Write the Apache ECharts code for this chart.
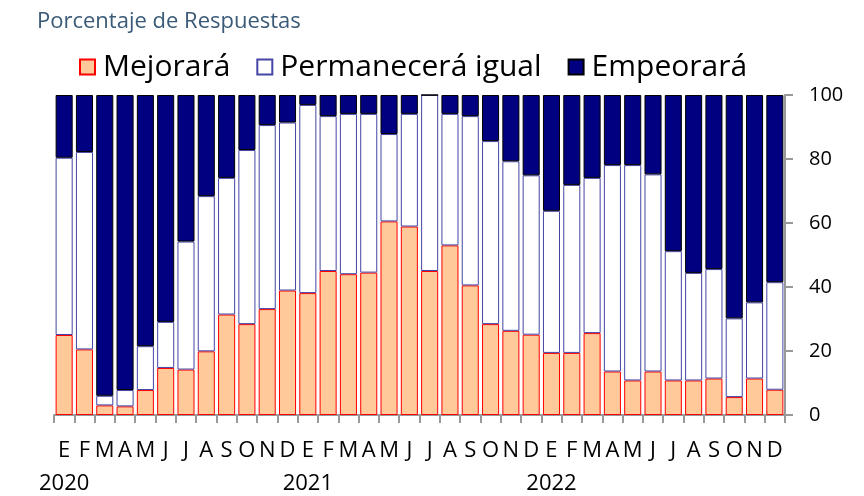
<!DOCTYPE html>
<html>
<head>
<meta charset="utf-8">
<script src="https://cdn.jsdelivr.net/npm/echarts@6/dist/echarts.min.js"></script>
<style>
  html, body { margin: 0; padding: 0; background: #fff; }
  #chart { width: 864px; height: 496px; }
</style>
</head>
<body>
<div id="chart"></div>
<script>
// meses ene-2020 .. dic-2022
const months = ['E', 'F', 'M', 'A', 'M', 'J', 'J', 'A', 'S', 'O', 'N', 'D']
const years = ['2020', '2021', '2022']
const categories = []
years.forEach(y => months.forEach((m, i) => categories.push(i === 0 ? m + '\n' + y : m)))

const mejorara = [25, 20.5, 3, 2.7, 7.8, 14.7, 14.2, 19.9, 31.4, 28.4, 33.1, 38.9,
  38.1, 45, 44, 44.5, 60.5, 58.9, 45, 53, 40.5, 28.4, 26.3, 25.1,
  19.4, 19.4, 25.6, 13.6, 10.8, 13.6, 10.8, 10.8, 11.4, 5.6, 11.4, 7.9]
const permanecera = [55.4, 61.7, 3, 5.1, 13.7, 14.4, 40, 48.5, 42.7, 54.4, 57.5, 52.5,
  58.8, 48.4, 50.1, 49.6, 27.3, 35.2, 55, 41.1, 52.9, 57.2, 53, 49.8,
  44.4, 52.5, 48.5, 64.5, 67.3, 61.6, 40.4, 33.6, 34.2, 24.6, 23.8, 33.6]
const empeorara = [19.6, 17.8, 94, 92.2, 78.5, 70.9, 45.8, 31.6, 25.9, 17.2, 9.4, 8.6,
  3.1, 6.6, 5.9, 5.9, 12.2, 5.9, 0, 5.9, 6.6, 14.4, 20.7, 25.1,
  36.2, 28.1, 25.9, 21.9, 21.9, 24.8, 48.8, 55.6, 54.4, 69.8, 64.8, 58.5]

const yTicks = [0, 20, 40, 60, 80, 100]
const font = '"Open Sans", sans-serif'

const chart = echarts.init(document.getElementById('chart'), null, { renderer: 'canvas' })

chart.setOption({
  animation: false,
  textStyle: { fontFamily: font },
  title: {
    text: 'Porcentaje de Respuestas',
    left: 32,
    top: 6,
    textStyle: { fontSize: 22, fontWeight: 'normal', color: '#3a5a78', fontFamily: font }
  },
  legend: {
    top: 47,
    left: 74,
    icon: 'rect',
    itemWidth: 15,
    itemHeight: 15,
    itemGap: 26,
    textStyle: { fontSize: 30, color: '#000', fontFamily: font, padding: [0, 0, 0, 3] }
  },
  grid: { left: 54, right: 79, top: 95, bottom: 81, containLabel: false, outerBoundsMode: 'none' },
  xAxis: {
    type: 'category',
    data: categories,
    axisLine: { lineStyle: { color: '#999', width: 2 } },
    axisTick: { show: true, length: 8, lineStyle: { color: '#999', width: 2 } },
    axisLabel: {
      interval: 0,
      margin: 19,
      fontSize: 22,
      lineHeight: 33,
      color: '#000',
      fontFamily: font
    }
  },
  yAxis: {
    type: 'value',
    position: 'right',
    min: 0,
    max: 100,
    interval: 20,
    splitLine: { show: false },
    axisLine: { show: true, lineStyle: { color: '#999', width: 2 } },
    axisTick: { show: true, length: 8, lineStyle: { color: '#999', width: 2 } },
    axisLabel: {
      margin: 24,
      fontSize: 20,
      color: '#000',
      fontFamily: font,
      formatter: v => (yTicks.includes(v) ? String(v) : '')
    }
  },
  series: [
    {
      name: 'Mejorará',
      type: 'bar',
      stack: 'total',
      barCategoryGap: '16%',
      data: mejorara,
      itemStyle: { color: '#ffc999', borderColor: '#ff0000', borderWidth: 1 }
    },
    {
      name: 'Permanecerá igual',
      type: 'bar',
      stack: 'total',
      data: permanecera,
      itemStyle: { color: '#ffffff', borderColor: '#4545a5', borderWidth: 1 }
    },
    {
      name: 'Empeorará',
      type: 'bar',
      stack: 'total',
      data: empeorara,
      itemStyle: { color: '#000080', borderColor: '#000000', borderWidth: 1 }
    }
  ]
})
</script>
</body>
</html>
